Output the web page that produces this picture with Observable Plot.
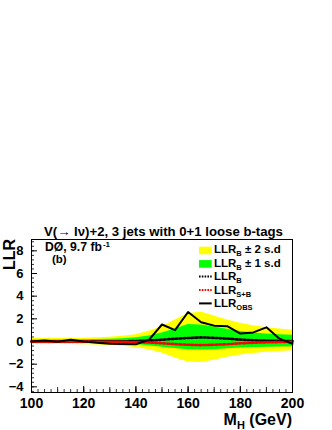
<!DOCTYPE html>
<html><head><meta charset="utf-8">
<script src="https://cdn.jsdelivr.net/npm/d3@7"></script>
<script src="https://cdn.jsdelivr.net/npm/@observablehq/plot@0.6"></script>
<style>html,body{margin:0;padding:0;background:#fff}</style>
</head><body><div id="chart"></div>
<script>
const mass   = [100,105,110,115,120,125,130,135,140,145,150,155,160,165,170,175,180,185,190,195,200];
const llrObs = [0.0,0.08,-0.02,0.15,0.0,-0.12,-0.2,-0.22,-0.24,0.15,1.5,1.0,2.6,1.7,1.4,1.35,0.7,0.8,1.25,0.25,-0.2];
const llrB   = [0.01,0.01,0.01,0.01,0.01,0.01,0.02,0.02,0.04,0.08,0.16,0.24,0.31,0.36,0.32,0.26,0.17,0.11,0.07,0.05,0.03];
const llrSB  = [-0.01,-0.01,-0.01,-0.01,-0.01,-0.02,-0.02,-0.03,-0.05,-0.09,-0.16,-0.23,-0.29,-0.32,-0.29,-0.24,-0.16,-0.11,-0.07,-0.05,-0.03];
const band2Hi = [0.27,0.27,0.27,0.27,0.28,0.32,0.38,0.47,0.6,0.9,1.3,1.9,2.45,2.6,2.25,1.9,1.6,1.4,1.22,1.1,1.0];
const band2Lo = [-0.27,-0.27,-0.27,-0.27,-0.28,-0.3,-0.35,-0.42,-0.52,-0.72,-1.02,-1.45,-1.8,-1.85,-1.65,-1.4,-1.2,-1.05,-0.95,-0.88,-0.82];
const band1Hi = [0.14,0.14,0.14,0.14,0.15,0.17,0.2,0.25,0.32,0.48,0.75,1.1,1.5,1.45,1.28,1.08,0.88,0.75,0.66,0.6,0.55];
const band1Lo = [-0.14,-0.14,-0.14,-0.14,-0.15,-0.16,-0.18,-0.22,-0.27,-0.37,-0.5,-0.62,-0.72,-0.76,-0.72,-0.65,-0.58,-0.53,-0.5,-0.48,-0.47];

const xTickLabels = [100,120,140,160,180,200];
const yTickLabels = [-4,-2,0,2,4,6,8];
const titleText = "V(\u2192 l\u03bd)+2, 3 jets with 0+1 loose b-tags";
const xLabelMain = "M", xLabelSub = "H", xLabelRest = " (GeV)";
const yLabel = "LLR";
const expText = "D\u00d8, 9.7 fb", expSup = "-1", panelText = "(b)";
const legendRows = [
  {kind: "fill", color: "#ffff00", sub: "B", rest: " \u00b1 2 s.d"},
  {kind: "fill", color: "#00ff00", sub: "B", rest: " \u00b1 1 s.d"},
  {kind: "dot",  color: "#000000", sub: "B", rest: ""},
  {kind: "dot",  color: "#ff0000", sub: "S+B", rest: ""},
  {kind: "solid",color: "#000000", sub: "OBS", rest: ""}
];

const data = mass.map((m, i) => ({m, obs: llrObs[i], b: llrB[i], sb: llrSB[i],
  lo2: band2Lo[i], hi2: band2Hi[i], lo1: band1Lo[i], hi1: band1Hi[i]}));

const W = 332, H = 430, mL = 31, mR = 40, mT = 239, mB = 38;
const iw = W - mL - mR, ih = H - mT - mB;
const font = "'Liberation Sans', Arial, Helvetica, sans-serif";
const yMinor = d3.range(-4.4, 8.81, 0.4).map(v => Math.round(v * 10) / 10);
const xMinor = d3.range(100, 200.01, 2.5);
const xMid = d3.range(100, 200.01, 10);

const plot = Plot.plot({
  width: W, height: H,
  marginLeft: mL, marginRight: mR, marginTop: mT, marginBottom: mB,
  style: {fontFamily: font, background: "#fff", color: "#000", overflow: "visible"},
  x: {domain: [100, 200]},
  y: {domain: [-4.5, 9]},
  marks: [
    Plot.areaY(data, {x: "m", y1: "lo2", y2: "hi2", fill: "#ffff00"}),
    Plot.areaY(data, {x: "m", y1: "lo1", y2: "hi1", fill: "#00ff00"}),
    Plot.line(data, {x: "m", y: "b", stroke: "#000", strokeWidth: 2.6, strokeDasharray: "2,2"}),
    Plot.line(data, {x: "m", y: "sb", stroke: "#ff0000", strokeWidth: 2.6, strokeDasharray: "2,2"}),
    Plot.line(data, {x: "m", y: "obs", stroke: "#000", strokeWidth: 2}),
    Plot.tickY(yMinor, {y: d => d, insetRight: iw - 3, stroke: "#333"}),
    Plot.tickY(yTickLabels, {y: d => d, insetRight: iw - 6, stroke: "#000"}),
    Plot.tickX(xMinor, {x: d => d, insetTop: ih - 3, stroke: "#333"}),
    Plot.tickX(xMid, {x: d => d, insetTop: ih - 5, stroke: "#333"}),
    Plot.tickX(xTickLabels, {x: d => d, insetTop: ih - 6, stroke: "#000"}),
    Plot.frame({stroke: "#000"}),
    Plot.axisY(yTickLabels, {tickSize: 0, tickPadding: 8, fontSize: 13, fontWeight: "bold", label: null}),
    Plot.axisX(xTickLabels, {tickSize: 0, tickPadding: 6, fontSize: 14, fontWeight: "bold", label: null})
  ]
});
document.getElementById("chart").appendChild(plot);

const svg = d3.select(plot);
svg.selectAll("text").attr("font-weight", "bold").attr("fill", "#000");
const g = svg.append("g").attr("font-family", font).attr("font-weight", "bold")
  .attr("fill", "#000").attr("text-anchor", "start");

g.append("text").attr("x", 163.5).attr("y", 235.5).attr("text-anchor", "middle")
  .attr("font-size", 13.2).text(titleText);

g.append("text").attr("transform", "translate(15,270) rotate(-90)").attr("text-anchor", "start")
  .attr("font-size", 16).text(yLabel);

const xl = g.append("text").attr("x", 292).attr("y", 425).attr("text-anchor", "end").attr("font-size", 16);
xl.append("tspan").text(xLabelMain);
xl.append("tspan").attr("font-size", 11).attr("dy", 4).text(xLabelSub);
xl.append("tspan").attr("dy", -4).text(xLabelRest);

const ex = g.append("text").attr("x", 45).attr("y", 250.5).attr("font-size", 12.2);
ex.append("tspan").text(expText);
ex.append("tspan").attr("font-size", 8).attr("dy", -4).attr("dx", 1).text(expSup);
g.append("text").attr("x", 52).attr("y", 262.5).attr("font-size", 11.5).text(panelText);

const base0 = 253.3, step = 13.4;
legendRows.forEach((r, i) => {
  const by = base0 + i * step;
  if (r.kind === "fill") {
    g.append("rect").attr("x", 199).attr("y", by - 6.6).attr("width", 12.7).attr("height", 7.6).attr("fill", r.color);
  } else {
    g.append("line").attr("x1", 199).attr("x2", 211.7).attr("y1", by - 3.5).attr("y2", by - 3.5)
      .attr("stroke", r.color).attr("stroke-width", 2)
      .attr("stroke-dasharray", r.kind === "dot" ? "1.6,1.2" : null);
  }
  const t = g.append("text").attr("x", 214).attr("y", by).attr("font-size", 11.5);
  t.append("tspan").text("LLR");
  t.append("tspan").attr("font-size", 7.5).attr("dy", 3).text(r.sub);
  if (r.rest) t.append("tspan").attr("dy", -3).text(r.rest);
});
</script>
</body></html>
